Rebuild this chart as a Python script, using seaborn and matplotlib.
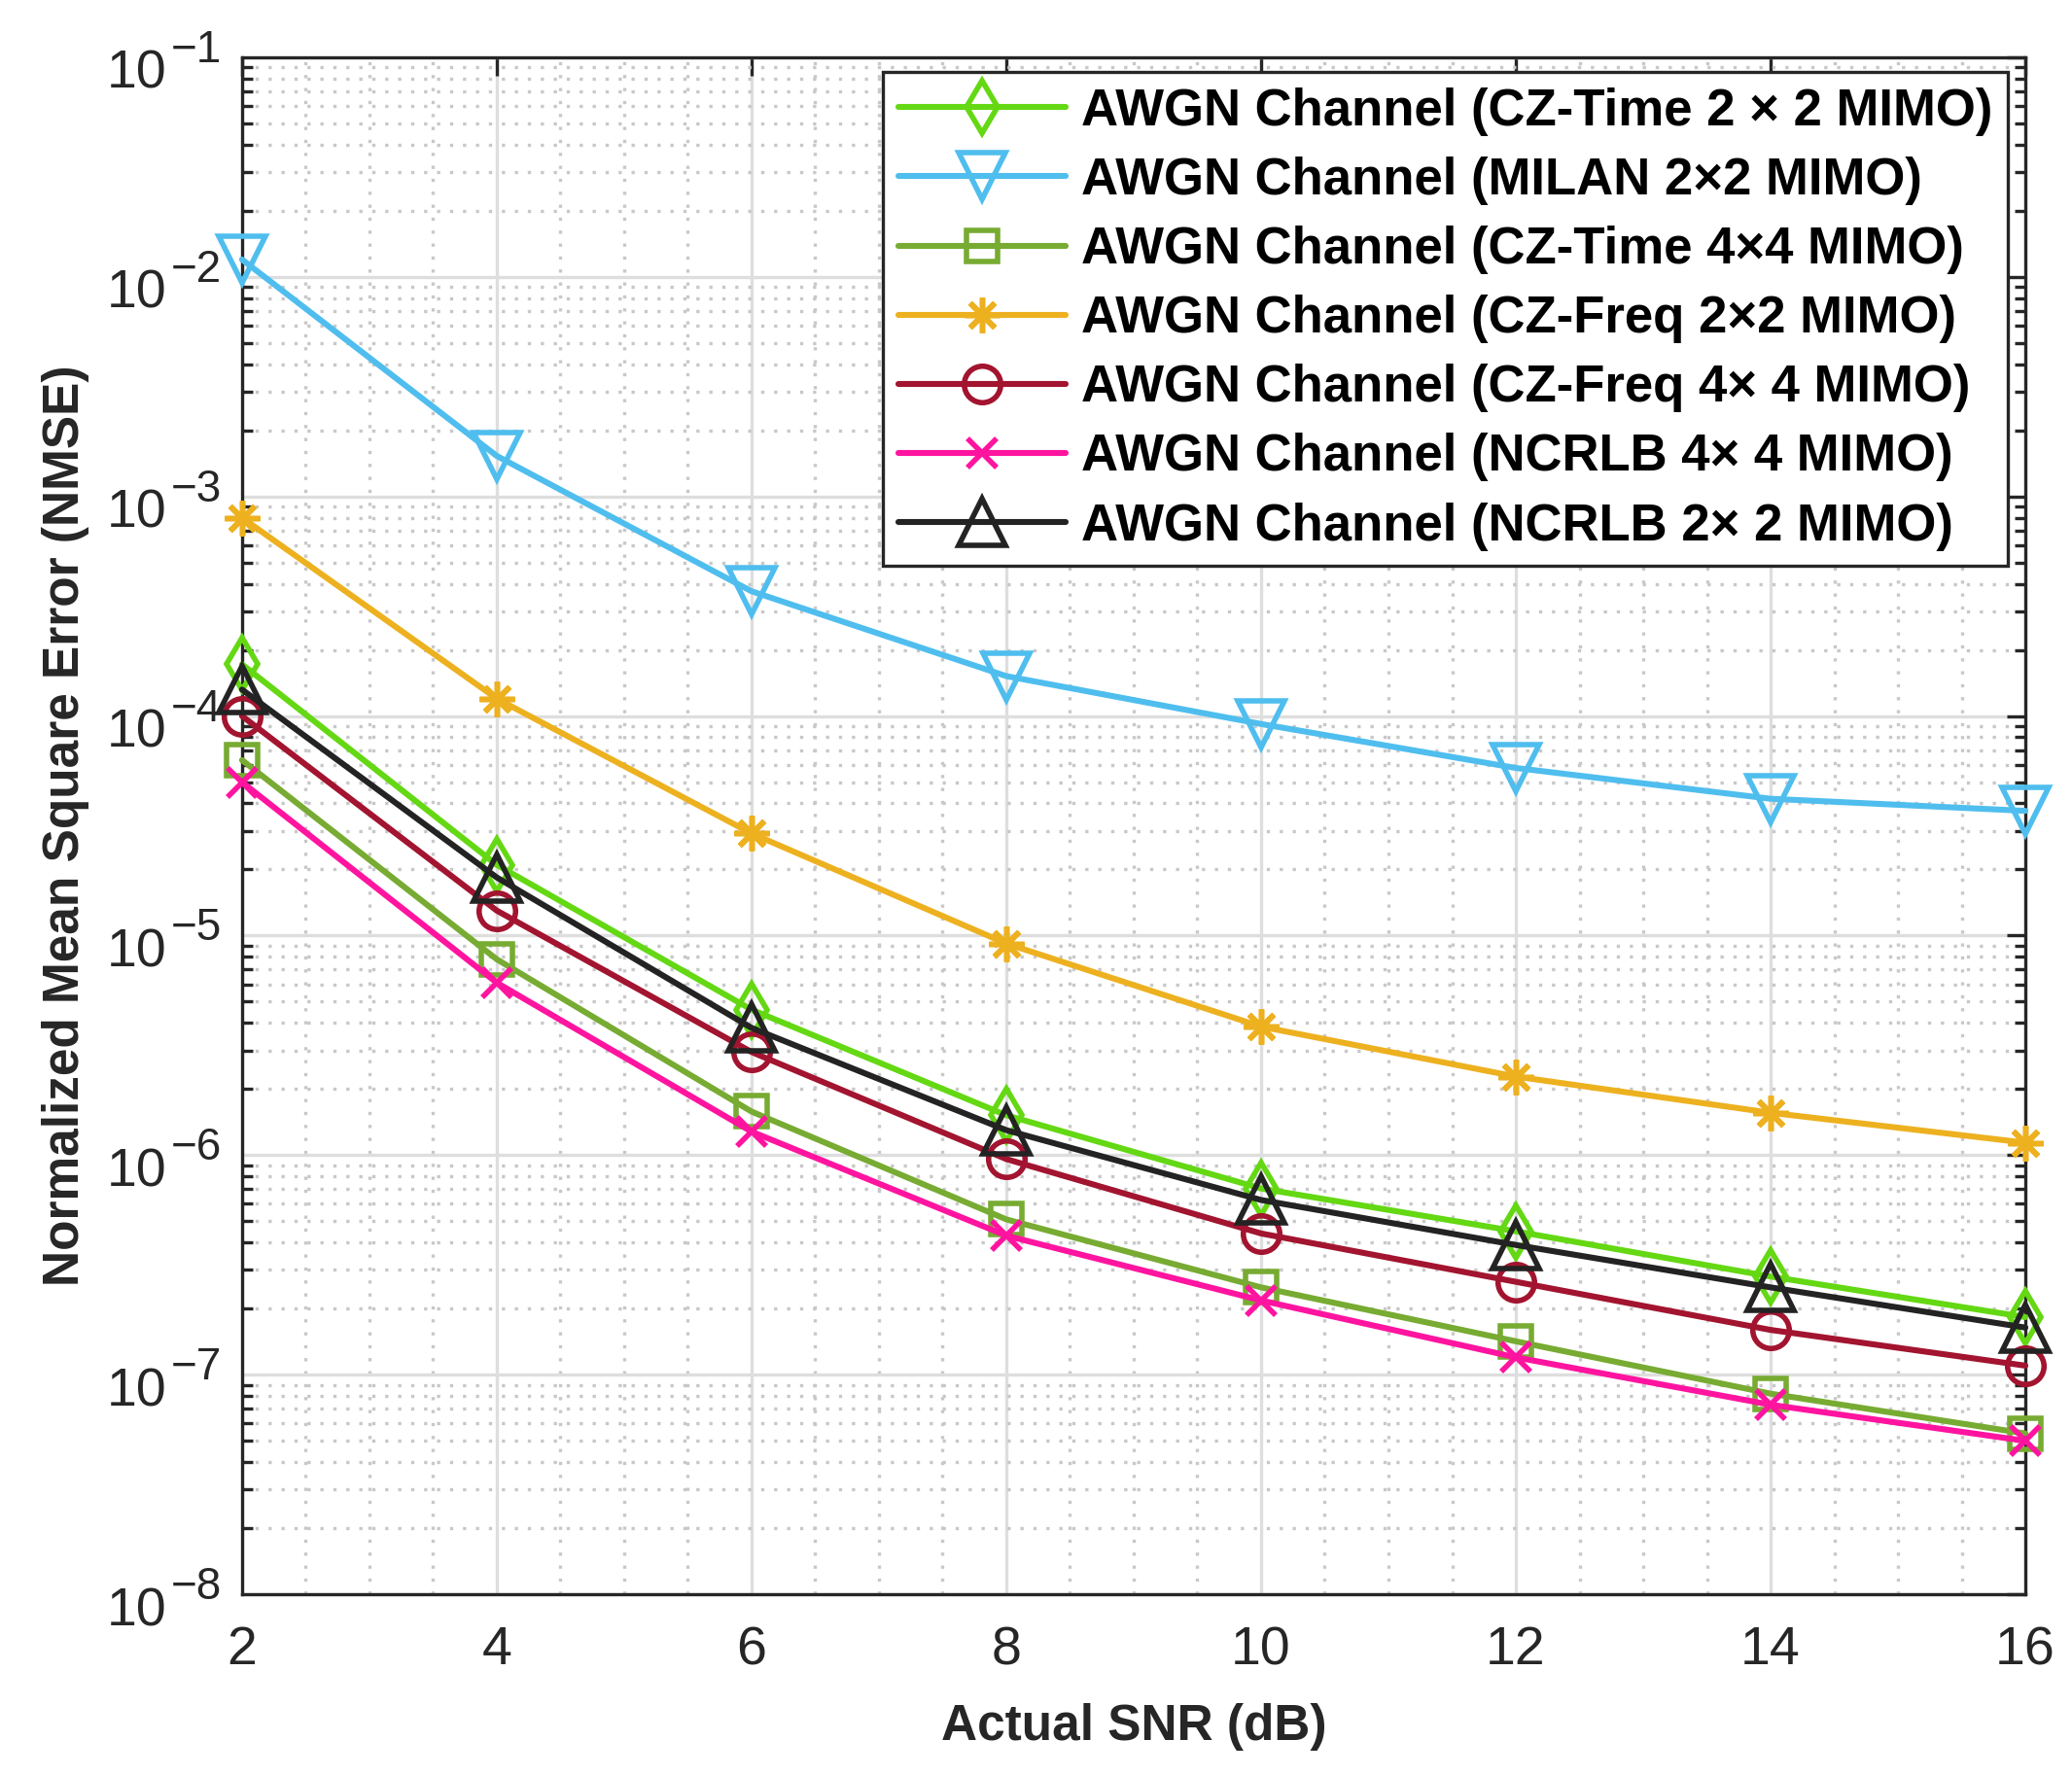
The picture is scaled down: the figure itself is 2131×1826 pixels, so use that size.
import numpy as np
import pandas as pd
import matplotlib
matplotlib.use("Agg")
import matplotlib.pyplot as plt
import matplotlib.transforms as mtransforms
from matplotlib.ticker import LogLocator, MultipleLocator, NullFormatter
import seaborn as sns

snr = [2, 4, 6, 8, 10, 12, 14, 16]

cz_time_2x2 = [1.72e-4, 2.1e-5, 4.6e-6, 1.52e-6, 7.05e-7, 4.5e-7, 2.8e-7, 1.83e-7]
milan_2x2 = [1.2e-2, 1.53e-3, 3.7e-4, 1.52e-4, 9.2e-5, 5.8e-5, 4.2e-5, 3.7e-5]
cz_time_4x4 = [6.3e-5, 7.8e-6, 1.58e-6, 5.1e-7, 2.5e-7, 1.42e-7, 8.2e-8, 5.4e-8]
cz_freq_2x2 = [8.0e-4, 1.2e-4, 2.92e-5, 9.2e-6, 3.85e-6, 2.28e-6, 1.56e-6, 1.14e-6]
cz_freq_4x4 = [1.0e-4, 1.3e-5, 2.95e-6, 9.6e-7, 4.4e-7, 2.65e-7, 1.6e-7, 1.1e-7]
ncrlb_4x4 = [5.0e-5, 6.1e-6, 1.28e-6, 4.3e-7, 2.18e-7, 1.2e-7, 7.3e-8, 5.0e-8]
ncrlb_2x2 = [1.32e-4, 1.84e-5, 3.8e-6, 1.3e-6, 6.25e-7, 3.9e-7, 2.5e-7, 1.64e-7]

y_exponents = [-8, -7, -6, -5, -4, -3, -2, -1]

labels = [
    "AWGN Channel (CZ-Time 2 \u00d7 2 MIMO)",
    "AWGN Channel (MILAN 2\u00d72 MIMO)",
    "AWGN Channel (CZ-Time 4\u00d74 MIMO)",
    "AWGN Channel (CZ-Freq 2\u00d72 MIMO)",
    "AWGN Channel (CZ-Freq 4\u00d7 4 MIMO)",
    "AWGN Channel (NCRLB 4\u00d7 4 MIMO)",
    "AWGN Channel (NCRLB 2\u00d7 2 MIMO)",
]
series = [cz_time_2x2, milan_2x2, cz_time_4x4, cz_freq_2x2, cz_freq_4x4, ncrlb_4x4, ncrlb_2x2]

colors = ["#64D813", "#4FBEEE", "#77AB32", "#EDB120", "#A2142F", "#FF14A0", "#232323"]
markers = ["d", "v", "s", (8, 2, 0), "o", "x", "^"]
msizes = [14, 17, 11.5, 13, 13.5, 10.5, 17]

sns.set_theme(style="white")
plt.rcParams["font.family"] = ["Liberation Sans", "DejaVu Sans"]
plt.rcParams["axes.unicode_minus"] = True

fig = plt.figure(figsize=(2131 / 200, 1826 / 200), dpi=200)
ax = fig.add_axes([0.1168, 0.1018, 0.9775 - 0.1168, 0.9677 - 0.1018])

for lab, vals, c, m, ms in zip(labels, series, colors, markers, msizes):
    df = pd.DataFrame({"snr": snr, "nmse": vals})
    sns.lineplot(data=df, x="snr", y="nmse", ax=ax, color=c, marker=m,
                 markersize=ms, markerfacecolor="none", markeredgecolor=c,
                 markeredgewidth=2.0, linewidth=2.2, label=lab, sort=False,
                 errorbar=None, clip_on=False, zorder=3)

ax.set_yscale("log")
ax.set_xlim(2, 16)
ax.set_ylim(1e-8, 1e-1)
ax.set_xticks(snr)
ax.xaxis.set_minor_locator(MultipleLocator(0.5))
ax.yaxis.set_major_locator(LogLocator(base=10, numticks=20))
ax.yaxis.set_minor_locator(LogLocator(base=10, subs=np.arange(2, 10), numticks=20))
ax.yaxis.set_major_formatter(NullFormatter())
ax.yaxis.set_minor_formatter(NullFormatter())

ax.grid(which="major", color="#DEDEDE", linewidth=1.2, linestyle="-", zorder=0)
ax.grid(which="minor", color="#C8C8C8", linewidth=1.2, linestyle=(0, (1, 3)), zorder=0)
ax.set_axisbelow(True)

for s in ax.spines.values():
    s.set_color("#262626")
    s.set_linewidth(1.2)
    s.set_visible(True)

ax.tick_params(axis="both", which="major", direction="in", length=6.8, width=1.2,
               top=True, right=True, labelsize=20, colors="#262626", pad=10)
ax.tick_params(axis="x", which="major", pad=11.5)
ax.tick_params(axis="y", which="minor", direction="in", length=4, width=1.2,
               left=True, right=True, colors="#262626")
ax.tick_params(axis="x", which="minor", length=0)

# y tick labels drawn as base "10" plus a large exponent (MATLAB style)
px = 72.0 / 200.0
ytrans = mtransforms.blended_transform_factory(ax.transAxes, ax.transData)
for e in y_exponents:
    v = 10.0 ** e
    t_base = ytrans + mtransforms.ScaledTranslation(-78 * px / 72, -32 * px / 72, fig.dpi_scale_trans)
    ax.text(0, v, "10", transform=t_base, ha="right", va="baseline", fontsize=20,
            color="#262626", clip_on=False)
    t_exp = ytrans + mtransforms.ScaledTranslation(-73 * px / 72, -5 * px / 72, fig.dpi_scale_trans)
    ax.text(0, v, "\u2212%d" % abs(e), transform=t_exp, ha="left", va="baseline",
            fontsize=16.5, color="#262626", clip_on=False)

ax.set_xlabel("Actual SNR (dB)", fontsize=18.5, fontweight="bold", color="#262626", labelpad=10)
ax.set_ylabel("Normalized Mean Square Error (NMSE)", fontsize=18.5, fontweight="bold",
              color="#262626")
ax.yaxis.set_label_coords(-0.0855, 0.5)

leg = ax.legend(loc="upper right", bbox_to_anchor=(0.990, 0.9905),
                prop={"weight": "bold", "size": 19}, frameon=True, fancybox=False,
                shadow=False, framealpha=1, edgecolor="#262626", handlelength=3.26,
                handletextpad=0.3, labelspacing=0.40, borderpad=0.30, borderaxespad=0)
leg.get_frame().set_linewidth(1.2)
leg.set_zorder(5)
for t in leg.get_texts():
    t.set_color("black")

fig.savefig("out.png", dpi=200, facecolor="white")
